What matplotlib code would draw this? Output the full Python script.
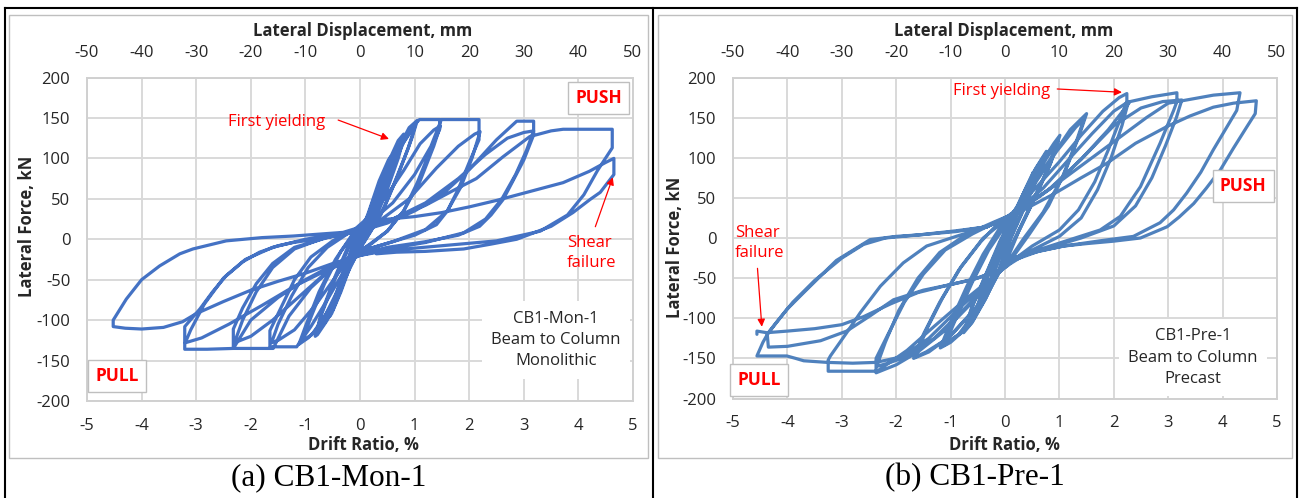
import matplotlib.pyplot as plt
from matplotlib.lines import Line2D
from matplotlib.patches import Rectangle

plt.rcParams['axes.unicode_minus'] = False

# ---- data: hysteresis cycles (drift %, force kN) ----
mon_cycles = [
    [(0.0, 0), (0.08, 15), (0.2, 35), (0.14, 22), (0.02, 2), (-0.1, -15), (-0.2, -32), (-0.14, -20), (-0.04, -4), (0.0, 2)],
    [(0.0, 2), (0.15, 30), (0.3, 58), (0.38, 70), (0.3, 52), (0.12, 18), (0.0, 0), (-0.15, -25), (-0.3, -52),
     (-0.38, -64), (-0.3, -45), (-0.12, -12), (0.0, 5)],
    [(0.0, 5), (0.15, 32), (0.35, 72), (0.52, 98), (0.56, 102), (0.45, 78), (0.25, 38), (0.05, 5), (-0.15, -28),
     (-0.35, -65), (-0.52, -92), (-0.56, -96), (-0.45, -70), (-0.25, -30), (-0.05, 5)],
    [(-0.05, 5), (0.15, 30), (0.35, 68), (0.5, 92), (0.42, 72), (0.22, 32), (0.02, 0), (-0.18, -32), (-0.38, -68),
     (-0.5, -88), (-0.4, -62), (-0.2, -22), (-0.05, 5)],
    [(-0.05, 5), (0.15, 28), (0.35, 62), (0.55, 100), (0.7, 122), (0.8, 130), (0.68, 105), (0.45, 62), (0.22, 22),
     (0.0, -5), (-0.2, -35), (-0.4, -70), (-0.6, -100), (-0.78, -118), (-0.82, -120), (-0.7, -92), (-0.45, -48),
     (-0.2, -10), (0.0, 10)],
    [(0.0, 10), (0.2, 35), (0.45, 75), (0.65, 108), (0.8, 125), (0.7, 100), (0.48, 58), (0.25, 20), (0.02, -8),
     (-0.2, -38), (-0.45, -75), (-0.65, -104), (-0.8, -115), (-0.7, -90), (-0.45, -45), (-0.2, -6), (0.0, 12)],
    [(0.0, 12), (0.2, 35), (0.45, 72), (0.7, 112), (0.9, 138), (1.05, 147), (0.95, 125), (0.7, 80), (0.45, 40),
     (0.2, 10), (0.0, -12), (-0.25, -42), (-0.5, -78), (-0.75, -108), (-0.95, -122), (-1.12, -130), (-1.0, -108),
     (-0.75, -65), (-0.45, -25), (-0.15, 5), (0.05, 18)],
    [(0.05, 18), (0.25, 40), (0.5, 78), (0.75, 115), (0.95, 135), (1.0, 138), (0.88, 112), (0.62, 68), (0.38, 30),
     (0.12, 2), (-0.1, -20), (-0.35, -55), (-0.62, -92), (-0.88, -118), (-1.05, -125), (-0.92, -100),
     (-0.65, -55), (-0.35, -15), (-0.05, 12), (0.05, 18)],
    [(0.05, 18), (0.3, 45), (0.55, 82), (0.8, 120), (1.0, 142), (1.09, 148), (1.3, 148), (1.46, 148), (1.46, 136),
     (1.3, 112), (1.05, 70), (0.8, 35), (0.5, 10), (0.2, -5), (0.0, -15), (-0.3, -40), (-0.6, -75), (-0.9, -108),
     (-1.16, -133), (-1.4, -133), (-1.65, -133), (-1.65, -113), (-1.45, -85), (-1.2, -50), (-0.9, -22),
     (-0.5, -2), (-0.1, 12)],
    [(-0.1, 12), (0.2, 30), (0.5, 55), (0.8, 85), (1.1, 118), (1.35, 135), (1.47, 140), (1.35, 115), (1.1, 72),
     (0.8, 35), (0.5, 10), (0.2, -6), (-0.1, -18), (-0.4, -42), (-0.8, -80), (-1.2, -112), (-1.5, -125),
     (-1.62, -128), (-1.5, -105), (-1.25, -70), (-0.95, -35), (-0.6, -10), (-0.2, 8)],
    [(-0.2, 8), (0.2, 22), (0.6, 45), (1.0, 80), (1.3, 115), (1.49, 148), (1.8, 148), (2.18, 148), (2.18, 123),
     (2.0, 95), (1.8, 62), (1.6, 35), (1.4, 18), (1.0, 5), (0.5, -5), (0.0, -15), (-0.5, -35), (-0.9, -60),
     (-1.3, -95), (-1.59, -135), (-2.0, -135), (-2.32, -135), (-2.32, -111), (-2.15, -85), (-1.9, -55),
     (-1.6, -30), (-1.2, -10), (-0.6, 2), (-0.1, 10)],
    [(-0.1, 10), (0.4, 25), (0.9, 50), (1.4, 88), (1.8, 115), (2.1, 130), (2.2, 133), (2.05, 100), (1.85, 65),
     (1.6, 35), (1.2, 12), (0.6, -3), (0.0, -15), (-0.6, -40), (-1.1, -70), (-1.6, -100), (-2.0, -120),
     (-2.3, -128), (-2.15, -100), (-1.9, -65), (-1.6, -35), (-1.2, -12), (-0.6, 3), (0.0, 10)],
    [(0.0, 10), (0.5, 20), (1.0, 35), (1.5, 55), (2.0, 86), (2.5, 123), (2.87, 146), (3.18, 146), (3.18, 129),
     (3.0, 98), (2.8, 72), (2.62, 49), (2.4, 30), (2.19, 16), (1.8, 5), (1.2, -3), (0.5, -10), (0.0, -18),
     (-0.5, -32), (-1.0, -50), (-1.5, -72), (-2.0, -100), (-2.32, -135), (-2.8, -136), (-3.21, -136),
     (-3.21, -108), (-2.93, -86), (-2.7, -65), (-2.45, -45), (-2.15, -28), (-1.84, -16), (-1.5, -8),
     (-1.22, -4), (-0.61, 2), (0.0, 10)],
    [(0.0, 10), (0.6, 25), (1.2, 45), (1.8, 75), (2.3, 105), (2.7, 125), (3.0, 132), (3.18, 134), (3.05, 110),
     (2.85, 80), (2.6, 50), (2.3, 25), (1.9, 8), (1.2, -4), (0.5, -12), (0.0, -20), (-0.6, -38), (-1.2, -58),
     (-1.8, -82), (-2.4, -105), (-2.9, -122), (-3.2, -128), (-3.1, -112), (-2.85, -80), (-2.5, -48),
     (-2.1, -25), (-1.6, -10), (-1.0, 0), (-0.3, 8), (0.1, 12)],
    [(0.1, 12), (0.6, 25), (1.2, 42), (1.7, 60), (2.13, 75), (2.62, 102), (3.11, 127), (3.5, 134), (3.72, 136),
     (4.2, 136), (4.62, 136), (4.62, 113), (4.35, 85), (4.1, 55), (3.8, 30), (3.3, 10), (2.5, -2), (1.5, -8),
     (0.5, -14), (0.0, -20), (-0.5, -30), (-1.0, -42), (-1.5, -52), (-2.0, -63), (-2.5, -77), (-3.0, -92),
     (-3.25, -102), (-3.6, -109), (-4.0, -111), (-4.3, -110), (-4.52, -108), (-4.52, -100), (-4.28, -74),
     (-4.0, -50), (-3.67, -33), (-3.3, -18), (-3.06, -12), (-2.45, -2), (-1.8, 2), (-1.22, 4), (-0.31, 8.5),
     (0.47, 24.6)],
    [(0.47, 24.6), (1.0, 28), (1.5, 33), (2.0, 40), (2.5, 48), (3.0, 57), (3.72, 70), (4.2, 84), (4.5, 95),
     (4.65, 100), (4.65, 80), (4.4, 58), (4.21, 49), (3.9, 33), (3.5, 16), (2.87, 0), (2.4, -6), (1.9, -12),
     (1.2, -15), (0.67, -16), (0.3, -18)],
]

pre_cycles = [
    [(0.0, 0), (0.1, 20), (0.25, 42), (0.18, 25), (0.05, 5), (-0.1, -22), (-0.25, -48), (-0.18, -30),
     (-0.05, -8), (0.05, 10)],
    [(0.05, 10), (0.2, 35), (0.38, 62), (0.52, 82), (0.42, 60), (0.2, 25), (0.0, -8), (-0.15, -35), (-0.35, -65),
     (-0.52, -88), (-0.42, -65), (-0.2, -30), (0.0, 0), (0.1, 20)],
    [(0.1, 20), (0.3, 50), (0.55, 85), (0.76, 108), (0.62, 80), (0.35, 38), (0.1, 0), (-0.1, -38), (-0.35, -75),
     (-0.6, -105), (-0.76, -118), (-0.62, -88), (-0.35, -45), (-0.1, -5), (0.12, 25)],
    [(0.12, 25), (0.32, 52), (0.58, 88), (0.74, 104), (0.6, 76), (0.32, 32), (0.08, -5), (-0.1, -40),
     (-0.38, -78), (-0.62, -106), (-0.74, -114), (-0.58, -82), (-0.3, -38), (-0.05, 0), (0.12, 25)],
    [(0.12, 25), (0.35, 55), (0.65, 92), (0.9, 118), (1.01, 128), (0.85, 95), (0.55, 50), (0.25, 8), (0.05, -25),
     (-0.1, -42), (-0.4, -80), (-0.75, -115), (-1.0, -130), (-1.19, -137), (-1.0, -105), (-0.7, -60),
     (-0.4, -20), (-0.1, 12), (0.12, 28)],
    [(0.12, 28), (0.4, 58), (0.7, 95), (0.95, 120), (0.8, 88), (0.5, 45), (0.2, 2), (-0.1, -40), (-0.45, -85),
     (-0.8, -118), (-1.1, -132), (-0.9, -100), (-0.6, -55), (-0.3, -15), (0.0, 15), (0.15, 30)],
    [(0.15, 30), (0.45, 62), (0.75, 98), (0.98, 122), (0.82, 90), (0.52, 46), (0.22, 4), (-0.1, -40),
     (-0.5, -88), (-0.85, -120), (-1.12, -134), (-0.95, -102), (-0.62, -56), (-0.3, -12), (0.0, 18),
     (0.15, 30)],
    [(0.15, 30), (0.5, 65), (0.9, 105), (1.2, 135), (1.5, 155), (1.35, 125), (1.1, 82), (0.8, 40), (0.45, 5),
     (0.1, -28), (-0.1, -42), (-0.5, -85), (-1.0, -122), (-1.4, -142), (-1.68, -150), (-1.5, -120),
     (-1.2, -80), (-0.85, -40), (-0.45, -5), (-0.1, 20), (0.15, 32)],
    [(0.15, 32), (0.55, 68), (0.95, 108), (1.3, 138), (1.45, 148), (1.3, 118), (1.05, 75), (0.7, 32), (0.35, 0),
     (0.05, -30), (-0.1, -42), (-0.55, -88), (-1.05, -125), (-1.45, -142), (-1.64, -148), (-1.45, -115),
     (-1.15, -75), (-0.8, -35), (-0.4, 0), (0.0, 22), (0.15, 32)],
    [(0.15, 32), (0.6, 65), (1.0, 95), (1.4, 128), (1.8, 158), (2.1, 175), (2.24, 180), (2.24, 170), (2.1, 145),
     (1.9, 110), (1.65, 70), (1.35, 35), (1.0, 10), (0.5, -10), (0.1, -30), (-0.1, -42), (-0.6, -80),
     (-1.1, -115), (-1.6, -142), (-2.0, -158), (-2.37, -168), (-2.37, -150), (-2.15, -120), (-1.85, -80),
     (-1.5, -45), (-1.1, -15), (-0.6, 5), (-0.1, 22), (0.15, 30)],
    [(0.15, 30), (0.7, 62), (1.2, 100), (1.6, 130), (2.0, 158), (2.27, 170), (2.15, 140), (1.95, 100),
     (1.7, 60), (1.4, 25), (1.0, 2), (0.5, -15), (0.1, -32), (-0.1, -42), (-0.7, -85), (-1.3, -125),
     (-1.8, -148), (-2.2, -157), (-2.36, -160), (-2.2, -130), (-1.95, -90), (-1.6, -50), (-1.2, -18),
     (-0.7, 5), (-0.2, 20), (0.15, 30)],
    [(0.15, 30), (0.8, 60), (1.4, 98), (1.9, 135), (2.3, 170), (2.7, 176), (3.16, 181), (3.16, 170), (3.1, 159),
     (2.85, 118), (2.49, 64), (2.12, 27), (1.75, 10), (1.2, -2), (0.6, -15), (0.15, -28), (-0.1, -42),
     (-0.7, -75), (-1.3, -110), (-1.8, -140), (-2.35, -166), (-2.8, -166), (-3.25, -166), (-3.25, -152),
     (-3.21, -147), (-2.91, -118), (-2.66, -93), (-2.29, -60), (-1.87, -31), (-1.44, -10), (-0.9, 2),
     (-0.33, 14), (0.15, 30)],
    [(0.15, 30), (0.9, 65), (1.5, 105), (2.0, 140), (2.5, 162), (2.9, 170), (3.25, 172), (3.15, 150),
     (2.95, 115), (2.7, 75), (2.4, 40), (2.0, 15), (1.4, 0), (0.8, -12), (0.15, -28), (-0.1, -42), (-0.8, -85),
     (-1.4, -125), (-1.9, -148), (-2.37, -155), (-2.8, -156), (-3.27, -155), (-3.7, -153), (-3.85, -150),
     (-4.01, -147), (-4.3, -147), (-4.56, -147), (-4.45, -130), (-4.35, -118), (-4.01, -89), (-3.7, -68),
     (-3.4, -48), (-3.1, -28), (-2.78, -14.5), (-2.48, -2), (-2.0, 2), (-1.56, 4), (-0.9, 8), (-0.33, 14),
     (0.15, 30)],
    [(0.15, 30), (0.6, 50), (1.1, 75), (1.6, 100), (2.1, 125), (2.6, 150), (3.0, 168), (3.34, 172), (3.83, 178),
     (4.32, 181), (4.26, 159), (4.05, 135), (3.83, 110), (3.6, 82), (3.34, 56), (3.1, 35), (2.85, 19),
     (2.36, 2), (1.8, -3), (1.08, -10), (0.5, -18), (0.15, -25), (-0.1, -40), (-0.6, -52), (-1.0, -58),
     (-1.5, -65), (-2.05, -77), (-2.48, -97), (-2.91, -116), (-3.39, -128), (-4.0, -135), (-4.35, -136),
     (-4.37, -120), (-4.2, -105), (-3.9, -80), (-3.5, -53), (-3.0, -25), (-2.6, -8), (-2.2, 0), (-1.56, 4),
     (-0.9, 9), (-0.33, 14), (0.15, 28)],
    [(0.15, 28), (0.9, 55), (1.4, 75), (1.87, 93), (2.4, 118), (2.98, 139), (3.4, 152), (3.83, 163), (4.2, 168),
     (4.62, 171), (4.6, 155), (4.45, 139), (4.2, 112), (3.96, 85), (3.7, 62), (3.47, 43), (3.2, 26),
     (2.98, 14), (2.49, 0), (1.99, -4), (1.5, -7), (1.08, -10), (0.6, -17), (0.15, -25), (-0.1, -40),
     (-0.5, -50), (-1.0, -58), (-1.6, -68), (-2.1, -82), (-2.6, -98), (-3.0, -108), (-3.5, -113),
     (-4.0, -116), (-4.38, -118), (-4.56, -116), (-4.56, -120)],
]

drift_ticks = [-5, -4, -3, -2, -1, 0, 1, 2, 3, 4, 5]
disp_ticks = [-50, -40, -30, -20, -10, 0, 10, 20, 30, 40, 50]
force_ticks = [-200, -150, -100, -50, 0, 50, 100, 150, 200]

W, H = 1301, 498
sans = ['Open Sans', 'DejaVu Sans']
red = '#FF0000'
ink = '#262626'

fig = plt.figure(figsize=(W / 100, H / 100), dpi=100)


def fx(px):
    return px / W


def fy(py):
    return 1 - py / H


def panel(rect, cycles, color, info, caption, cap_x, lab_x, ylab_x, ylab_y, notes):
    left, top, right, bottom = rect
    ax = fig.add_axes([fx(left), fy(bottom), fx(right - left), (bottom - top) / H])
    xs = [p[0] for c in cycles for p in c]
    ys = [p[1] for c in cycles for p in c]
    ax.plot(xs, ys, color=color, lw=2.3, solid_joinstyle='round', solid_capstyle='round', zorder=3)
    ax.set_xlim(-5, 5)
    ax.set_ylim(-200, 200)
    ax.set_xticks(drift_ticks)
    ax.set_yticks(force_ticks)
    ax.grid(True, color='#D9D9D9', lw=1.4, zorder=0)
    ax.set_axisbelow(True)
    for s in ax.spines.values():
        s.set_color('#D0D0D0')
        s.set_linewidth(1.4)
    ax.tick_params(length=0, labelsize=12, colors=ink, pad=12)
    for lab in ax.get_xticklabels() + ax.get_yticklabels():
        lab.set_family(sans)
    top_ax = ax.secondary_xaxis('top', functions=(lambda d: d * 10, lambda m: m / 10))
    top_ax.set_xticks(disp_ticks)
    top_ax.tick_params(length=0, labelsize=12, colors=ink, pad=12)
    for lab in top_ax.get_xticklabels():
        lab.set_family(sans)
    top_ax.spines['top'].set_visible(False)

    fig.text(fx(lab_x), fy(31), 'Lateral Displacement, mm', ha='center', va='center',
             fontsize=12, fontweight='bold', family=sans, color=ink)
    fig.text(fx(lab_x), fy(445), 'Drift Ratio, %', ha='center', va='center',
             fontsize=12, fontweight='bold', family=sans, color=ink)
    fig.text(fx(ylab_x), fy(ylab_y), 'Lateral Force, kN', ha='center', va='center', rotation=90,
             fontsize=12, fontweight='bold', family=sans, color=ink)

    ax.text(info[0], info[1], info[2], transform=ax.transAxes, ha='center', va='center',
            fontsize=12, family=sans, color=ink, linespacing=1.45, zorder=4,
            bbox=dict(boxstyle='square,pad=0.55', fc='white', ec='none'))

    box = dict(boxstyle='square,pad=0.4', fc='white', ec='#BFBFBF', lw=1.0)
    ax.text(notes['push'][0], notes['push'][1], 'PUSH', ha='center', va='center', fontsize=12.5,
            fontweight='bold', color=red, family=sans, bbox=box, zorder=5)
    ax.text(notes['pull'][0], notes['pull'][1], 'PULL', ha='center', va='center', fontsize=12.5,
            fontweight='bold', color=red, family=sans, bbox=box, zorder=5)
    ax.text(notes['yield'][0], notes['yield'][1], 'First yielding', ha='center', va='center',
            fontsize=12, color=red, family=sans, zorder=5)
    ax.text(notes['shear'][0], notes['shear'][1], 'Shear\nfailure', ha='left', va='center',
            fontsize=12, color=red, family=sans, linespacing=1.35, zorder=5)
    for a, b in (notes['yield_arrow'], notes['shear_arrow']):
        ax.annotate('', xy=b, xytext=a, zorder=5,
                    arrowprops=dict(arrowstyle='-|>', color=red, lw=0.9, mutation_scale=11,
                                    shrinkA=0, shrinkB=0))

    fig.text(fx(cap_x), fy(478), caption, ha='center', va='center', fontsize=22.5,
             family='Liberation Serif', color='black')
    return ax


panel((87, 77.5, 633, 401), mon_cycles, '#4472C4',
      (0.859, 0.1886, 'CB1-Mon-1\nBeam to Column\nMonolithic'),
      '(a) CB1-Mon-1', 329, 363, 27, 226,
      {'push': (4.37, 174.6), 'pull': (-4.45, -169), 'yield': (-1.53, 145.3),
       'shear': (3.79, -17.4), 'yield_arrow': ((-0.4, 147.4), (0.53, 124)),
       'shear_arrow': ((4.31, 15.5), (4.63, 76.6))})

panel((733, 77.5, 1277, 398.5), pre_cycles, '#4F81BD',
      (0.8456, 0.1277, 'CB1-Pre-1\nBeam to Column\nPrecast'),
      '(b) CB1-Pre-1', 975, 1004, 675, 247,
      {'push': (4.38, 64.8), 'pull': (-4.52, -177.5), 'yield': (-0.06, 183.6),
       'shear': (-4.96, -6.6), 'yield_arrow': ((0.96, 185.7), (2.15, 181.6)),
       'shear_arrow': ((-4.55, -37.8), (-4.47, -110.6))})

# chart-area frames and table lines
for x0, x1 in ((9, 648), (658, 1292)):
    fig.patches.append(Rectangle((fx(x0), fy(458)), fx(x1 - x0), (458 - 15) / H, transform=fig.transFigure,
                                 fill=False, ec='#BFBFBF', lw=1.0))
for (x0, y0), (x1, y1) in (((5, 8), (1297, 8)), ((5, 8), (5, 498)), ((653, 8), (653, 498)),
                           ((1297, 8), (1297, 498))):
    fig.add_artist(Line2D([fx(x0), fx(x1)], [fy(y0), fy(y1)], color='black', lw=1.5))

fig.savefig('out.png', dpi=100)
